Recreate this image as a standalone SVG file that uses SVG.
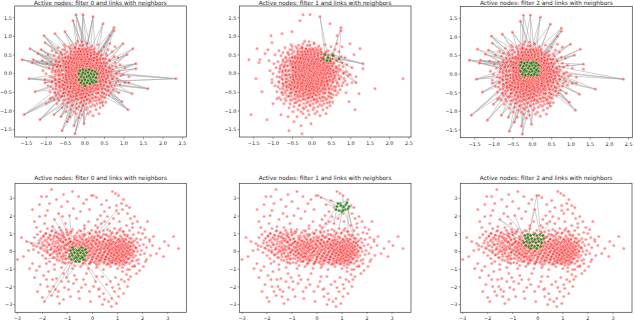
<svg xmlns="http://www.w3.org/2000/svg" width="634" height="322" viewBox="0 0 634 322">
<style>
text{font-family:"DejaVu Sans","Liberation Sans",sans-serif;fill:#262626}
.t{font-size:5.8px;text-anchor:middle}
.x{font-size:4.9px;text-anchor:middle}
.y{font-size:4.9px;text-anchor:end}
.ax{fill:none;stroke:#3a3a3a;stroke-width:0.7}
.tm{fill:none;stroke:#3a3a3a;stroke-width:0.5}
.ln{fill:none;stroke:#a4a4a4;stroke-opacity:0.55;stroke-width:0.95}
</style>
<defs>
<marker id="mr" markerWidth="6" markerHeight="6" refX="3" refY="3" overflow="visible"><circle cx="3" cy="3" r="1.6" fill="#ff0000" fill-opacity="0.42" stroke="#ffffff" stroke-width="0.4" stroke-opacity="0.8"/></marker>
<marker id="mg" markerWidth="6" markerHeight="6" refX="3" refY="3" overflow="visible"><circle cx="3" cy="3" r="1.6" fill="#007a00" fill-opacity="0.75" stroke="#ffffff" stroke-width="0.4" stroke-opacity="0.8"/></marker>
<polyline id="topCore" fill="none" stroke="none" marker-start="url(#mr)" marker-mid="url(#mr)" marker-end="url(#mr)" points="-9,-30 2,-31 13,-29 -21,-29 25,-30 -16,-27 -3,-28 6,-26 19,-27 -27,-26 30,-27 -10,-26 -22,-24 -12,-25 -5,-23 1,-24 9,-25 16,-23 23,-24 -33,-23 -1,-25 -29,-21 -18,-22 -13,-20 -7,-21 -2,-22 4,-20 10,-21 14,-22 21,-20 27,-22 -24,-20 7,-22 -31,-18 -23,-19 -16,-17 -10,-18 -5,-19 0,-17 3,-19 6,-18 11,-17 17,-19 22,-18 29,-17 -37,-19 -8,-17 13,-19 -26,-15 -20,-16 -14,-14 -11,-16 -6,-15 -3,-14 1,-16 5,-15 9,-14 12,-16 18,-15 24,-14 33,-16 -29,-14 -17,-15 -1,-14 15,-14 -34,-12 -24,-13 -19,-11 -15,-12 -9,-13 -7,-11 -2,-12 2,-13 4,-11 8,-12 11,-13 14,-11 19,-12 25,-13 30,-11 -12,-11 -27,-11 22,-11 -30,-9 -22,-10 -17,-8 -13,-9 -10,-10 -5,-8 -3,-10 0,-9 3,-8 6,-10 9,-9 13,-8 16,-10 20,-9 27,-8 -38,-10 -8,-9 11,-10 35,-9 -25,-8 -36,-6 -28,-7 -21,-5 -16,-6 -12,-7 -9,-5 -6,-6 -2,-7 1,-5 4,-6 7,-7 10,-5 12,-6 15,-7 18,-5 23,-6 31,-7 -19,-7 -4,-5 26,-5 40,-6 -42,-3 -32,-4 -25,-2 -20,-3 -14,-4 -11,-2 -7,-3 -4,-4 -1,-2 2,-3 5,-4 8,-2 11,-3 14,-4 17,-2 21,-3 28,-4 34,-2 -17,-2 0,-4 24,-2 -39,0 -29,-1 -23,1 -18,0 -13,-1 -9,1 -6,0 -3,-1 1,1 3,0 6,-1 9,1 12,0 16,-1 19,1 25,0 32,-1 38,1 -26,1 -15,1 22,-1 -35,3 -27,2 -21,4 -16,3 -12,2 -8,4 -5,3 -2,2 0,4 4,3 7,2 10,4 13,3 18,2 23,4 29,3 36,2 -31,4 -19,2 15,4 44,3 -40,6 -30,5 -24,7 -19,6 -14,5 -10,7 -7,6 -3,5 0,7 2,6 5,5 8,7 11,6 14,5 17,7 21,6 27,5 33,7 -17,7 -1,5 24,7 -33,9 -26,8 -20,10 -15,9 -11,8 -8,10 -4,9 -1,8 3,10 6,9 9,8 12,10 16,9 20,8 25,10 31,9 -29,10 -13,10 14,8 40,9 -37,12 -28,11 -22,13 -17,12 -13,11 -9,13 -6,12 -2,11 1,13 4,12 8,11 11,13 15,12 19,11 24,13 30,12 -24,11 7,13 35,11 -32,15 -25,14 -19,16 -14,15 -10,14 -7,16 -3,15 0,14 3,16 7,15 10,14 14,16 18,15 23,14 28,16 -21,14 -5,14 12,16 -35,18 -27,17 -21,19 -16,18 -12,17 -8,19 -4,18 -1,17 2,19 6,18 9,17 13,19 17,18 22,17 26,19 -30,19 4,17 -29,21 -22,20 -17,22 -13,21 -9,20 -5,22 -2,21 1,20 5,22 8,21 12,20 16,22 21,21 -25,22 -11,22 19,20 -33,24 -24,23 -18,25 -14,24 -10,23 -6,25 -3,24 0,23 3,25 7,24 11,23 15,25 20,24 -27,25 -26,27 -20,26 -15,28 -11,27 -7,26 -4,28 -1,27 2,26 6,28 9,27 14,26 18,28 -31,26 -22,30 -16,29 -12,31 -8,30 -5,29 -2,31 1,30 4,29 8,31 12,30 -28,30 17,29 -18,33 -13,32 -9,34 -6,33 -2,32 2,34 6,33 -23,34 10,32 15,34 -14,36 -8,35 -4,37 1,36 5,38 -19,38 11,36 -11,38 -9,40 -3,41 3,40 -15,43 8,42 -6,44 14,40"/>
<polyline id="topOut" fill="none" stroke="none" marker-start="url(#mr)" marker-mid="url(#mr)" marker-end="url(#mr)" points="-9,-59 -2,-59 -12,-53 8,-57 29,-46 29,-43 -41,-38 -40,-31 -44,-24 -63,-14 -52,-14 -53,-11 -43,-13 -56,5 -40,9 -39,30 -61,41 -45,46 -31,41 -24,43 -18,48 -11,52 -23,57 -1,50 91,5 63,15 51,-10 44,9 34,19 43,36 18,32 5,27 42,-19 51,-5 47,20 -47,-20 -30,-40 25,-38 38,-30 -20,-42 48,-25 -50,18 -35,25 37,28 -10,60 18,-50 -55,-25"/>
<g id="topPts">
<use href="#topCore"/>
<use href="#topCore" transform="rotate(50) scale(0.8)" stroke-width="1.25"/>
<use href="#topCore" transform="rotate(140) scale(0.6)" stroke-width="1.67"/>
<use href="#topOut"/>
</g>
<polyline id="botBand" fill="none" stroke="none" marker-start="url(#mr)" marker-mid="url(#mr)" marker-end="url(#mr)" points="-45,-23 -33,-24 -20,-22 -8,-23 5,-24 15,-22 28,-23 40,-24 -26,-22 -52,-20 -40,-21 -30,-19 -22,-20 -13,-21 -4,-19 3,-20 11,-21 20,-19 30,-20 37,-21 46,-19 -36,-19 -55,-17 -47,-18 -38,-16 -31,-17 -25,-18 -17,-16 -10,-17 -3,-18 6,-16 13,-17 24,-18 33,-16 41,-17 50,-18 -42,-16 18,-16 -58,-14 -49,-15 -43,-13 -36,-14 -29,-15 -23,-13 -16,-14 -9,-15 -1,-13 8,-14 16,-15 22,-13 29,-14 35,-15 44,-13 53,-14 -33,-13 2,-15 39,-13 -53,-11 -46,-12 -39,-10 -34,-11 -27,-12 -21,-10 -14,-11 -6,-12 0,-10 6,-11 12,-12 19,-10 25,-11 31,-12 37,-10 42,-11 48,-12 57,-10 -31,-10 27,-12 -61,-8 -50,-9 -44,-7 -37,-8 -30,-9 -25,-7 -18,-8 -11,-9 -3,-7 4,-8 10,-9 17,-7 23,-8 28,-9 34,-7 39,-8 45,-9 51,-7 -22,-9 32,-9 -56,-5 -48,-6 -41,-4 -35,-5 -28,-6 -20,-4 -13,-5 -7,-6 -1,-4 7,-5 14,-6 20,-4 26,-5 30,-6 36,-4 41,-5 47,-6 54,-4 -32,-4 24,-6 43,-4 -59,-2 -51,-3 -45,-1 -38,-2 -29,-3 -23,-1 -15,-2 -9,-3 -2,-1 5,-2 12,-3 18,-1 24,-2 29,-3 33,-1 38,-2 44,-3 49,-1 -34,-1 35,-3 41,0 -54,1 -46,0 -40,2 -33,1 -26,0 -18,2 -11,1 -4,0 3,2 10,1 16,0 22,2 27,1 31,0 36,2 40,1 45,0 52,2 -36,0 26,-1 34,1 -50,4 -42,3 -35,5 -27,4 -20,3 -13,5 -6,4 1,3 8,5 15,4 21,3 25,5 30,4 34,3 39,5 43,4 48,3 -30,5 28,3 37,3 -47,7 -38,6 -30,8 -22,7 -15,6 -8,8 0,7 7,6 13,8 20,7 26,6 31,8 36,7 41,6 46,8 24,8 33,6 -43,10 -33,9 -24,11 -16,10 -9,9 -2,11 6,10 12,9 19,11 24,10 29,9 34,11 39,10 44,9 -28,11 31,11 -38,13 -27,12 -18,14 -10,13 -3,12 5,14 14,13 22,12 27,14 32,13 37,12 42,14 17,12 -31,16 -20,17 -12,15 -4,17 4,16 11,18 18,15 25,17 30,16 35,18 40,15"/>
<polyline id="botRest" fill="none" stroke="none" marker-start="url(#mr)" marker-mid="url(#mr)" marker-end="url(#mr)" points="40,9 37,18 34,23 29,28 26,33 22,40 19,47 16,50 27,37 32,30 42,15 47,19 51,15 26,45 31,42 11,42 7,37 14,33 38,25 44,22 35,35 20,36 24,52 12,48 30,20 46,12 53,10 23,26 18,30 36,28 20,-60 23,-58 26,-56 14,-51 9,-47 31,-52 34,-46 37,-44 26,-38 21,-33 17,-28 22,-23 34,-26 31,-20 1,-56 4,-54 12,-40 30,-42 24,-46 17,-44 29,-48 35,-38 15,-35 27,-30 38,-33 8,-36 24,-41 -41,-62 -46,-55 -51,-55 -29,-57 -53,-47 -45,-41 -53,-35 -38,-32 -23,-36 -25,-50 -9,-48 -19,-43 -6,-52 -1,-56 -16,-33 -43,-48 -31,-45 -34,-38 -58,-30 -48,-28 -27,-28 -12,-40 -4,-30 -60,-42 -36,-52 -14,-55 -20,-60 -40,-25 -8,-26 5,-32 -3,-42 -30,-35 -56,-24 -47,-36 9,-28 -69,5 -66,-10 -59,-6 -64,-1 -63,17 -53,15 -56,19 -49,24 -39,35 -34,40 -48,50 -41,44 -24,38 -19,32 -46,28 -36,27 -29,22 -43,40 -29,48 -58,26 -52,33 -44,20 -38,18 -31,30 -26,26 -35,45 -22,45 -40,28 -55,40 -33,52 -60,12 -46,12 -18,24 -28,36 -50,46 -71,-14 -75,8 -45,35 -37,38 -24,30 57,-12 67,-3 76,-6 86,-3 81,-15 61,-15 64,2 71,5 54,8 60,-6 72,-10 58,4 -13,47 1,35 4,25 -6,22 -9,28 -3,40 -14,40 7,45 -7,33 3,30 -11,36 10,25 -2,50 -16,28 6,38 12,-30 40,-28 45,-30 48,-24 52,-22 42,-35 55,-30 3,-26 19,55 10,53"/>
<g id="botPts">
<use href="#botBand"/>
<use href="#botBand" transform="translate(-5,-2) scale(0.8)" stroke-width="1.25"/>
<use href="#botBand" transform="translate(9,2) scale(0.6)" stroke-width="1.67"/>
<use href="#botRest"/>
</g>
</defs>

<g id="panel-filter0-top">
<text class="t" x="100.5" y="4.6">Active nodes: filter 0 and links with neighbors</text>
<g id="links-filter0-top" transform="translate(85,73.7)">
<path class="ln" d="M-5 -3L-9 -59M4 -4L-9 -59M11 0L-9 -59M-5 -3L-2 -59M4 -4L-2 -59M-6 6L-2 -59M-5 -3L-12 -53M11 8L-12 -53M4 -4L8 -57M11 0L8 -57M-6 6L8 -57M-5 -3L29 -46M11 0L29 -46M3 7L29 -46M4 -4L29 -43M11 8L29 -43M-5 -3L-41 -38M4 -4L-41 -38M-6 6L-41 -38M-5 -3L-40 -31M3 7L-40 -31M-6 6L-44 -24M4 -4L-44 -24M0 12L-44 -24"/>
<path class="ln" d="M-5 -3L-63 -14M-6 6L-63 -14M11 0L-63 -14M-5 -3L-52 -14M0 12L-52 -14M-6 6L-53 -11M4 -4L-53 -11M-5 -3L-43 -13M3 7L-43 -13M-6 6L-56 5M-5 -3L-56 5M0 12L-56 5M-6 6L-40 9M11 0L-40 9M-6 6L-39 30M0 12L-39 30M4 -4L-39 30M-6 6L-61 41M3 7L-61 41M-5 -3L-61 41M0 12L-45 46M-6 6L-45 46M11 8L-45 46"/>
<path class="ln" d="M-6 6L-31 41M0 12L-31 41M11 0L-31 41M0 12L-24 43M-5 -3L-24 43M11 8L-24 43M-6 6L-18 48M11 8L-18 48M3 7L-18 48M0 12L-11 52M-5 -3L-11 52M-6 6L-23 57M11 8L-23 57M3 7L-23 57M0 12L-1 50M11 8L-1 50M-6 6L-1 50M11 0L91 5M-5 -3L91 5M11 8L91 5M11 8L63 15M3 7L63 15M4 -4L63 15"/>
<path class="ln" d="M11 0L51 -10M4 -4L51 -10M11 8L51 -10M11 8L44 9M-5 -3L44 9M11 8L34 19M0 12L34 19M4 -4L34 19M11 8L43 36M0 12L43 36M11 0L43 36M3 7L43 36M0 12L18 32M11 8L18 32M11 0L42 -19M4 -4L42 -19M-5 -3L42 -19M11 0L51 -5M11 8L51 -5M11 8L47 20M3 7L47 20M-5 -3L-47 -20M-6 6L-47 -20M4 -4L-30 -40M-5 -3L-30 -40M4 -4L25 -38M11 0L25 -38M11 0L38 -30M4 -4L38 -30M-5 -3L-20 -42M4 -4L-20 -42M11 0L48 -25M4 -4L48 -25M-6 6L-50 18M0 12L-50 18M-6 6L-35 25M11 8L37 28M0 12L37 28M0 12L-10 60M3 7L-10 60M4 -4L18 -50M-5 -3L18 -50M-5 -3L-55 -25M-6 6L-55 -25"/>
<path class="ln" d="M7 -3L-9 -59M-3 2L-2 -59M7 -3L-12 -53M-3 2L8 -57M7 -3L29 -46M-3 2L29 -43M-3 2L-41 -38M7 -3L-40 -31M-3 2L-44 -24M7 -3L-63 -14M-3 2L-52 -14M8 10L-53 -11M-3 2L-43 -13M8 10L-56 5M-3 2L-40 9M8 10L-39 30M8 10L-61 41M-3 2L-45 46M8 10L-31 41M-3 2L-24 43M-3 2L-18 48M8 10L-11 52M-3 2L-23 57M-3 2L-1 50M7 -3L91 5M8 10L63 15M-3 2L51 -10M7 -3L44 9M7 -3L34 19M-3 2L43 36M7 -3L18 32M8 10L42 -19M-3 2L51 -5M7 -3L47 20M8 10L-47 -20M7 -3L-30 -40M-3 2L25 -38M8 10L38 -30M7 -3L-20 -42M8 10L48 -25M8 10L-35 25M-3 2L37 28M7 -3L-10 60M8 10L18 -50M8 10L-55 -25"/>
<path class="ln" d="M12 3L-9 -59M1 -1L-12 -53M12 3L-2 -59M-5 9L8 -57M1 -1L29 -46M-5 9L-41 -38M12 3L-40 -31M1 -1L-63 -14M12 3L-52 -14M-5 9L-56 5M1 -1L-40 9M-5 9L-61 41M12 3L-39 30M1 -1L-45 46M12 3L-31 41M1 -1L-18 48M12 3L-11 52M-5 9L-24 43M1 -1L-1 50M-5 9L91 5M1 -1L63 15M-5 9L51 -10M1 -1L43 36M-5 9L34 19M12 3L-47 -20M-5 9L25 -38M1 -1L38 -30M12 3L-20 -42M1 -1L-50 18M1 -1L37 28M12 3L-10 60M-5 9L-55 -25M1 -1L-44 -24M12 3L-43 -13"/>
</g>
<g transform="translate(85,73.7)">
<use href="#topPts"/>
<polyline fill="none" stroke="none" marker-start="url(#mg)" marker-mid="url(#mg)" marker-end="url(#mg)" points="-5,-3 -2,-4 1,-3 4,-4 7,-3 10,-2 -6,0 -3,1 0,0 3,-1 6,0 9,1 12,0 -4,3 -1,4 2,3 5,4 8,3 11,4 -6,6 -3,7 0,6 3,7 6,6 9,7 -4,9 -1,10 2,9 5,10 8,9 11,8 0,12 -2,-1 4,2 7,8"/>
</g>
<rect class="ax" x="14.7" y="6" width="171.6" height="131"/>
<path class="tm" d="M26.5 137v1.8M46 137v1.8M65.5 137v1.8M85 137v1.8M104.5 137v1.8M124 137v1.8M143.5 137v1.8M163 137v1.8M182.5 137v1.8M14.7 17.75h-1.8M14.7 36.4h-1.8M14.7 55.05h-1.8M14.7 73.7h-1.8M14.7 92.35h-1.8M14.7 111h-1.8M14.7 129.65h-1.8"/>
<text class="x" x="26.5" y="145">−1.5</text><text class="x" x="46" y="145">−1.0</text><text class="x" x="65.5" y="145">−0.5</text><text class="x" x="85" y="145">0.0</text><text class="x" x="104.5" y="145">0.5</text><text class="x" x="124" y="145">1.0</text><text class="x" x="143.5" y="145">1.5</text><text class="x" x="163" y="145">2.0</text><text class="x" x="182.5" y="145">2.5</text>
<text class="y" x="11.8" y="19.5">1.5</text><text class="y" x="11.8" y="38.15">1.0</text><text class="y" x="11.8" y="56.8">0.5</text><text class="y" x="11.8" y="75.45">0.0</text><text class="y" x="11.8" y="94.1">−0.5</text><text class="y" x="11.8" y="112.75">−1.0</text><text class="y" x="11.8" y="131.4">−1.5</text>
</g>

<g id="panel-filter1-top">
<text class="t" x="325.15" y="4.6">Active nodes: filter 1 and links with neighbors</text>
<g id="links-filter1-top" transform="translate(312,73.7)">
<path class="ln" d="M13 -19L8 -57M16 -16L8 -57M20 -19L29 -46M21 -18L29 -46M27 -15L29 -43M13 -19L51 -10M16 -16L51 -10M20 -19L51 -10M27 -15L51 -10"/>
<path class="ln" d="M15 -13L44 9M18 -13L44 9M27 -15L44 9M15 -13L38 1M13 -19L30 -11M18 -13L30 -11M13 -19L4 -20M15 -13L-3 -10M11 -15L-3 -10M21 -18L35 -9M16 -16L40 -6M20 -19L33 -16"/>
</g>
<g transform="translate(312,73.7)">
<use href="#topPts"/>
<polyline fill="none" stroke="none" marker-start="url(#mg)" marker-mid="url(#mg)" marker-end="url(#mg)" points="13,-19 16,-16 20,-19 21,-18 15,-13 18,-13 27,-15 11,-15"/>
</g>
<rect class="ax" x="239.3" y="6" width="171.7" height="131"/>
<path class="tm" d="M253.8 137v1.8M273.2 137v1.8M292.6 137v1.8M312 137v1.8M331.4 137v1.8M350.8 137v1.8M370.2 137v1.8M389.6 137v1.8M409 137v1.8M239.3 17.75h-1.8M239.3 36.4h-1.8M239.3 55.05h-1.8M239.3 73.7h-1.8M239.3 92.35h-1.8M239.3 111h-1.8M239.3 129.65h-1.8"/>
<text class="x" x="253.8" y="145">−1.5</text><text class="x" x="273.2" y="145">−1.0</text><text class="x" x="292.6" y="145">−0.5</text><text class="x" x="312" y="145">0.0</text><text class="x" x="331.4" y="145">0.5</text><text class="x" x="350.8" y="145">1.0</text><text class="x" x="370.2" y="145">1.5</text><text class="x" x="389.6" y="145">2.0</text><text class="x" x="409" y="145">2.5</text>
<text class="y" x="236.4" y="19.5">1.5</text><text class="y" x="236.4" y="38.15">1.0</text><text class="y" x="236.4" y="56.8">0.5</text><text class="y" x="236.4" y="75.45">0.0</text><text class="y" x="236.4" y="94.1">−0.5</text><text class="y" x="236.4" y="112.75">−1.0</text><text class="y" x="236.4" y="131.4">−1.5</text>
</g>

<g id="panel-filter2-top">
<text class="t" x="546.3" y="4.6">Active nodes: filter 2 and links with neighbors</text>
<g id="links-filter2-top" transform="translate(532.4,74.2)">
<path class="ln" d="M-11 -11L-9 -59M3 -12L-9 -59M-11 -11L-2 -59M3 -12L-2 -59M-11 -11L-12 -53M6 -5L-12 -53M3 -12L8 -57M-6 -6L8 -57M-11 -11L29 -46M6 -5L29 -46M3 -12L29 -43M5 0L29 -43M-11 -11L-41 -38M-12 -2L-41 -38M3 -12L-41 -38M-11 -11L-40 -31M-3 1L-40 -31M-12 -2L-44 -24M3 -12L-44 -24M-11 -11L-63 -14M-12 -2L-63 -14M-3 1L-63 -14"/>
<path class="ln" d="M-12 -2L-52 -14M-11 -11L-52 -14M-3 1L-53 -11M3 -12L-53 -11M-12 -2L-43 -13M-12 -2L-56 5M-3 1L-56 5M-11 -11L-56 5M-3 1L-40 9M6 -5L-40 9M-12 -2L-39 30M5 0L-39 30M-12 -2L-61 41M-3 1L-61 41M3 -12L-61 41M-3 1L-45 46M-12 -2L-45 46M-3 1L-31 41M5 0L-31 41M-12 -2L-24 43M5 0L-24 43"/>
<path class="ln" d="M-3 1L-18 48M6 -5L-18 48M-12 -2L-11 52M5 0L-11 52M-3 1L-23 57M5 0L-23 57M5 0L-1 50M-12 -2L-1 50M6 -5L91 5M5 0L91 5M3 -12L91 5M5 0L63 15M-3 1L63 15M6 -5L51 -10M3 -12L51 -10M5 0L44 9M6 -5L44 9M5 0L34 19M-3 1L34 19M5 0L43 36M-3 1L43 36M6 -5L43 36"/>
<path class="ln" d="M-3 1L18 32M5 0L18 32M6 -5L42 -19M3 -12L42 -19M5 0L47 20M6 -5L47 20M-12 -2L-47 -20M-11 -11L-47 -20M3 -12L-30 -40M-11 -11L-30 -40M3 -12L25 -38M6 -5L25 -38M6 -5L38 -30M3 -12L38 -30M-11 -11L-20 -42M3 -12L-20 -42M6 -5L48 -25M-12 -2L-50 18M-3 1L-50 18M5 0L37 28M-3 1L37 28M-3 1L-10 60M5 0L-10 60M3 -12L18 -50M-11 -11L18 -50M-11 -11L-55 -25M-12 -2L-55 -25"/>
<path class="ln" d="M-8 -8L-9 -59M-1 -4L-2 -59M2 -10L-12 -53M-1 -4L8 -57M2 -10L29 -46M-1 -4L29 -43M-8 -8L-41 -38M-10 -5L-40 -31M-1 -4L-44 -24M-8 -8L-63 -14M-10 -5L-52 -14M-8 -8L-53 -11M-1 -4L-43 -13M-10 -5L-56 5M-8 -8L-40 9M-1 -4L-39 30M-8 -8L-61 41M-1 -4L-45 46M-10 -5L-31 41M-1 -4L-24 43M-10 -5L-18 48M-1 -4L-11 52M-10 -5L-23 57M-1 -4L-1 50M-1 -4L91 5M2 -10L63 15M-1 -4L51 -10M2 -10L44 9M-1 -4L34 19M2 -10L43 36M-1 -4L18 32M-1 -4L42 -19M-1 -4L47 20M-8 -8L-30 -40M-1 -4L25 -38M-1 -4L38 -30M-1 -4L48 -25M-10 -5L-35 25M2 -10L37 28M-10 -5L-10 60M-1 -4L18 -50M-8 -8L-47 -20M2 -10L-20 -42M-8 -8L-50 18"/>
</g>
<g transform="translate(532.4,74.2)">
<use href="#topPts"/>
<polyline fill="none" stroke="none" marker-start="url(#mg)" marker-mid="url(#mg)" marker-end="url(#mg)" points="-11,-12 -8,-11 -5,-12 -2,-11 1,-12 4,-11 -12,-9 -9,-8 -6,-9 -3,-8 0,-9 3,-8 6,-9 -10,-6 -7,-5 -4,-6 -1,-5 2,-6 5,-5 -12,-3 -9,-2 -6,-3 -3,-2 0,-3 3,-2 6,-3 -10,0 -7,1 -4,0 -1,1 2,0 5,1 -1,-11 -8,-4 4,-4"/>
</g>
<rect class="ax" x="460.3" y="6.5" width="172" height="131.2"/>
<path class="tm" d="M474.65 137.7v1.8M493.9 137.7v1.8M513.15 137.7v1.8M532.4 137.7v1.8M551.65 137.7v1.8M570.9 137.7v1.8M590.15 137.7v1.8M609.4 137.7v1.8M628.65 137.7v1.8M460.3 18.4h-1.8M460.3 37h-1.8M460.3 55.6h-1.8M460.3 74.2h-1.8M460.3 92.8h-1.8M460.3 111.4h-1.8M460.3 130h-1.8"/>
<text class="x" x="474.65" y="145.6">−1.5</text><text class="x" x="493.9" y="145.6">−1.0</text><text class="x" x="513.15" y="145.6">−0.5</text><text class="x" x="532.4" y="145.6">0.0</text><text class="x" x="551.65" y="145.6">0.5</text><text class="x" x="570.9" y="145.6">1.0</text><text class="x" x="590.15" y="145.6">1.5</text><text class="x" x="609.4" y="145.6">2.0</text><text class="x" x="628.65" y="145.6">2.5</text>
<text class="y" x="457.4" y="20.15">1.5</text><text class="y" x="457.4" y="38.75">1.0</text><text class="y" x="457.4" y="57.35">0.5</text><text class="y" x="457.4" y="75.95">0.0</text><text class="y" x="457.4" y="94.55">−0.5</text><text class="y" x="457.4" y="113.15">−1.0</text><text class="y" x="457.4" y="131.75">−1.5</text>
</g>

<g id="panel-filter0-bottom">
<text class="t" x="100.65" y="179.8">Active nodes: filter 0 and links with neighbors</text>
<g id="links-filter0-bottom" transform="translate(92.5,251.5)">
<path class="ln" d="M-9 -1L24 -41M-9 -1L17 -28M-15 3L9 -28M-20 -2L-38 -32M-20 -2L-40 -25M-15 3L-40 -25M-21 7L-66 -10M-20 -2L-66 -10M-21 7L-47 7M-21 7L-48 50M-15 3L-41 44"/>
<path class="ln" d="M-10 7L-26 26M-21 7L-26 26M-10 7L24 52M-10 7L3 30M-9 -1L18 30M-9 -1L41 -5M-10 7L31 8M-20 -2L-23 -36M-9 -1L-8 -26M-15 3L-34 -38"/>
</g>
<g transform="translate(92.5,251.5)">
<use href="#botPts"/>
<polyline fill="none" stroke="none" marker-start="url(#mg)" marker-mid="url(#mg)" marker-end="url(#mg)" points="-22,-1 -19,-2 -16,-1 -13,-2 -10,-1 -7,-2 -21,2 -18,1 -15,2 -12,1 -9,2 -6,1 -23,5 -20,4 -17,5 -14,4 -11,5 -8,4 -21,8 -18,7 -15,8 -12,7 -9,8 -17,10 -13,10 -20,-4 -11,-4 -14,-1 -16,6 -10,6"/>
</g>
<rect class="ax" x="15" y="183.3" width="171.3" height="129"/>
<path class="tm" d="M17.3 312.3v1.8M42.4 312.3v1.8M67.4 312.3v1.8M92.5 312.3v1.8M117.6 312.3v1.8M142.6 312.3v1.8M167.7 312.3v1.8M15 198.4h-1.8M15 216.1h-1.8M15 233.8h-1.8M15 251.5h-1.8M15 269.2h-1.8M15 286.9h-1.8M15 304.6h-1.8"/>
<text class="x" x="17.3" y="320.2">−3</text><text class="x" x="42.4" y="320.2">−2</text><text class="x" x="67.4" y="320.2">−1</text><text class="x" x="92.5" y="320.2">0</text><text class="x" x="117.6" y="320.2">1</text><text class="x" x="142.6" y="320.2">2</text><text class="x" x="167.7" y="320.2">3</text>
<text class="y" x="12.3" y="200.15">3</text><text class="y" x="12.3" y="217.85">2</text><text class="y" x="12.3" y="235.55">1</text><text class="y" x="12.3" y="253.25">0</text><text class="y" x="12.3" y="270.95">−1</text><text class="y" x="12.3" y="288.65">−2</text><text class="y" x="12.3" y="306.35">−3</text>
</g>

<g id="panel-filter1-bottom">
<text class="t" x="325.15" y="179.8">Active nodes: filter 1 and links with neighbors</text>
<g id="links-filter1-bottom" transform="translate(317,251.5)">
<path class="ln" d="M20 -45L3 -20M25 -40L3 -20M25 -40L22 -23M26 -44L39 -8M31 -43L39 -8M31 -43L34 -26M23 -48L4 -54M20 -45L1 -56M23 -48L31 -52"/>
<path class="ln" d="M31 -43L37 -44M26 -44L26 -56M20 -45L14 -51M25 -40L21 -33M20 -45L17 -28M31 -43L31 -20M26 -44L9 -47M31 -43L34 -46"/>
</g>
<g transform="translate(317,251.5)">
<use href="#botPts"/>
<polyline fill="none" stroke="none" marker-start="url(#mg)" marker-mid="url(#mg)" marker-end="url(#mg)" points="20,-45 23,-48 26,-44 29,-47 31,-43 22,-41 25,-40 28,-42 19,-42 24,-46 30,-49 27,-45 21,-48 32,-45 26,-41"/>
</g>
<rect class="ax" x="239.3" y="183.3" width="171.7" height="129"/>
<path class="tm" d="M242 312.3v1.8M267 312.3v1.8M292 312.3v1.8M317 312.3v1.8M342 312.3v1.8M367 312.3v1.8M392 312.3v1.8M239.3 198.4h-1.8M239.3 216.1h-1.8M239.3 233.8h-1.8M239.3 251.5h-1.8M239.3 269.2h-1.8M239.3 286.9h-1.8M239.3 304.6h-1.8"/>
<text class="x" x="242" y="320.2">−3</text><text class="x" x="267" y="320.2">−2</text><text class="x" x="292" y="320.2">−1</text><text class="x" x="317" y="320.2">0</text><text class="x" x="342" y="320.2">1</text><text class="x" x="367" y="320.2">2</text><text class="x" x="392" y="320.2">3</text>
<text class="y" x="236.4" y="200.15">3</text><text class="y" x="236.4" y="217.85">2</text><text class="y" x="236.4" y="235.55">1</text><text class="y" x="236.4" y="253.25">0</text><text class="y" x="236.4" y="270.95">−1</text><text class="y" x="236.4" y="288.65">−2</text><text class="y" x="236.4" y="306.35">−3</text>
</g>

<g id="panel-filter2-bottom">
<text class="t" x="546.2" y="179.8">Active nodes: filter 2 and links with neighbors</text>
<g id="links-filter2-bottom" transform="translate(537.8,251.5)">
<path class="ln" d="M-10 -14L-1 -56M3 -15L-1 -56M-10 -14L-38 -32M-12 -9L-38 -32M-10 -14L-30 -35M-12 -9L-30 -19M-8 -6L-30 -19M3 -15L16 -15M2 -6L16 -15M-8 -6L-8 8"/>
<path class="ln" d="M2 -6L-8 8M2 -6L3 2M-8 -6L-15 -2M-10 -14L-3 -42M3 -15L-3 -42M3 -15L12 -30M-12 -9L-44 -7M2 -6L20 -4M-12 -9L-23 -36"/>
</g>
<g transform="translate(537.8,251.5)">
<use href="#botPts"/>
<polyline fill="none" stroke="none" marker-start="url(#mg)" marker-mid="url(#mg)" marker-end="url(#mg)" points="-13,-16 -10,-17 -7,-16 -4,-17 -1,-16 2,-17 5,-16 -12,-13 -9,-12 -6,-13 -3,-12 0,-13 3,-12 6,-13 -14,-9 -11,-10 -8,-9 -5,-10 -2,-9 1,-10 4,-9 -12,-6 -9,-5 -6,-6 -3,-5 0,-6 3,-5 -7,-3 -1,-3 -10,-14"/>
</g>
<rect class="ax" x="460.3" y="183.3" width="171.7" height="129"/>
<path class="tm" d="M462.65 312.3v1.8M487.7 312.3v1.8M512.75 312.3v1.8M537.8 312.3v1.8M562.85 312.3v1.8M587.9 312.3v1.8M612.95 312.3v1.8M460.3 198.4h-1.8M460.3 216.1h-1.8M460.3 233.8h-1.8M460.3 251.5h-1.8M460.3 269.2h-1.8M460.3 286.9h-1.8M460.3 304.6h-1.8"/>
<text class="x" x="462.65" y="320.2">−3</text><text class="x" x="487.7" y="320.2">−2</text><text class="x" x="512.75" y="320.2">−1</text><text class="x" x="537.8" y="320.2">0</text><text class="x" x="562.85" y="320.2">1</text><text class="x" x="587.9" y="320.2">2</text><text class="x" x="612.95" y="320.2">3</text>
<text class="y" x="457.4" y="200.15">3</text><text class="y" x="457.4" y="217.85">2</text><text class="y" x="457.4" y="235.55">1</text><text class="y" x="457.4" y="253.25">0</text><text class="y" x="457.4" y="270.95">−1</text><text class="y" x="457.4" y="288.65">−2</text><text class="y" x="457.4" y="306.35">−3</text>
</g>
</svg>
